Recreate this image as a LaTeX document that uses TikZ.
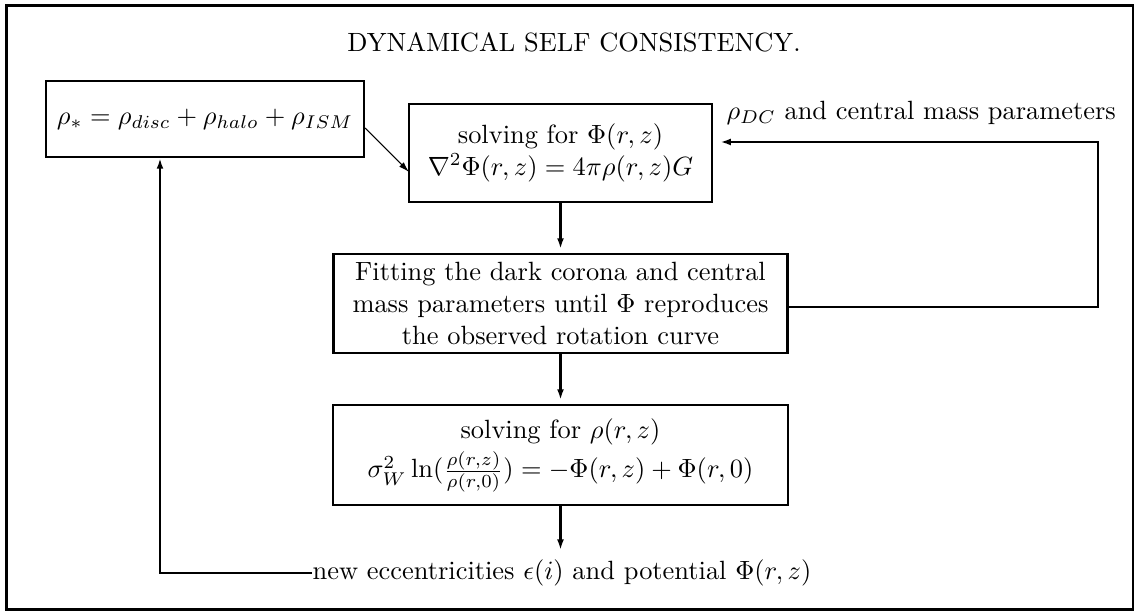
\documentclass[tikz,border=0pt]{standalone}
\usetikzlibrary{arrows.meta}
\newdimen\pxu
\pxu=0.3788pt
\begin{document}
\begin{tikzpicture}[x=0.3788pt,y=-0.3788pt,
  boxst/.style={draw,line width=0.85pt,inner sep=0pt,align=center},
  arr/.style={line width=0.85pt,-{Latex[length=4pt,width=2.6pt]}},
  thinarr/.style={line width=0.4pt,-{Latex[length=4pt,width=2.4pt]}}]
\useasboundingbox (0,0) rectangle (1135,611);
\draw[line width=1pt] (6.5,5.5) rectangle (1133,609.5);
\node (title) at (574,42) {DYNAMICAL SELF CONSISTENCY.};
\node[boxst,minimum width=318\pxu,minimum height=76\pxu] (b1) at (205,119)
  {$\rho_* = \rho_{disc} + \rho_{halo} + \rho_{ISM}$};
\node[boxst,minimum width=303\pxu,minimum height=98\pxu] (b2) at (560.5,153)
  {solving for $\Phi(r,z)$\\ $\nabla^2\Phi(r,z) = 4\pi\rho(r,z)G$};
\node[boxst,minimum width=454\pxu,minimum height=99\pxu] (b3) at (560.5,303.5)
  {Fitting the dark corona and central\\ mass parameters until $\Phi$ reproduces\\ the observed rotation curve};
\node[boxst,minimum width=455\pxu,minimum height=100\pxu] (b4) at (560.5,455)
  {solving for $\rho(r,z)$\\[1.5pt] $\sigma_W^2\ln(\frac{\rho(r,z)}{\rho(r,0)}) = -\Phi(r,z) + \Phi(r,0)$};
\node[inner sep=0pt,anchor=west] (dc) at (726,113) {$\rho_{DC}$ and central mass parameters};
\node[inner sep=0pt] (t) at (562,573) {new eccentricities $\epsilon(i)$ and potential $\Phi(r,z)$};
\coordinate (c1) at (160,573);
\coordinate (c2) at (1098,307);
\coordinate (c3) at (1098,142);
\coordinate (d1) at (365,128);
\coordinate (d2) at (409,172);
\draw[thinarr] (d1) -- (d2);
\draw[arr,shorten >=1.5pt] (b2.south) -- (b2.south |- b3.north);
\draw[arr,shorten >=1.5pt] (b3.south) -- (b3.south |- b4.north);
\draw[arr,shorten >=3.5pt] (b4.south) -- (b4.south |- t.north);
\draw[arr] (t.west) -- (c1) -- (c1 |- b1.south);
\draw[arr,shorten >=2.7pt] (c2 -| b3.east) -- (c2) -- (c3) -- (c3 -| b2.east);
\end{tikzpicture}
\end{document}
